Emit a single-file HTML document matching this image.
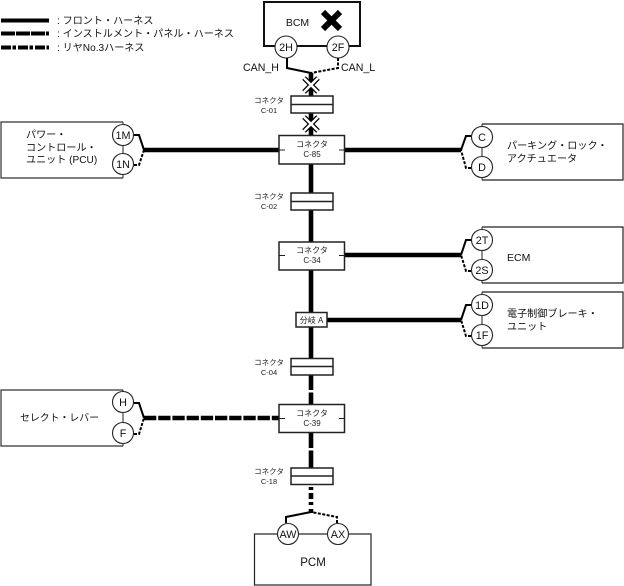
<!DOCTYPE html>
<html><head><meta charset="utf-8"><style>
html,body{margin:0;padding:0;background:#fff}
svg{display:block}
text{font-family:"Liberation Sans","Noto Sans CJK JP",sans-serif;fill:#111}
.t{font-size:10.1px}
.s{font-size:7.5px;text-anchor:middle;fill:#222}
.b{font-size:8px;text-anchor:middle;fill:#222}
.c{font-size:10.8px;text-anchor:middle;fill:#111}
.conn{fill:#fff;stroke:#222;stroke-width:1.5}
.circ{fill:#fff;stroke:#222;stroke-width:1.1}
.th{stroke:#000;stroke-width:4.6;fill:none}
.n{stroke:#000;stroke-width:2;fill:none}
.nd{stroke:#000;stroke-width:2;fill:none;stroke-dasharray:3 1.5}
</style></head><body>
<svg width="624" height="586" viewBox="0 0 624 586" xmlns="http://www.w3.org/2000/svg">
<!-- legend -->
<line x1="1" y1="20.500" x2="49" y2="20.500" class="th" style="stroke-width:4"/>
<line x1="1" y1="33.500" x2="49" y2="33.500" class="th" style="stroke-width:4;stroke-dasharray:14 1"/>
<line x1="1" y1="47.500" x2="49" y2="47.500" class="th" style="stroke-width:4;stroke-dasharray:10 1.500 3.500 2"/>
<text x="57" y="24" class="t">: フロント・ハーネス</text>
<text x="57" y="37" class="t">: インストルメント・パネル・ハーネス</text>
<text x="57" y="51" class="t">: リヤNo.3ハーネス</text>

<!-- trunk -->
<line x1="311" y1="73" x2="311" y2="135" class="th"/>
<line x1="311" y1="164" x2="311" y2="312" class="th"/>
<line x1="311" y1="327" x2="311" y2="358" class="th"/>
<line x1="311" y1="375" x2="311" y2="390" class="th"/>
<line x1="311" y1="392.500" x2="311" y2="404" class="th"/>
<line x1="311" y1="432" x2="311" y2="448" class="th"/>
<line x1="311" y1="450.500" x2="311" y2="468" class="th"/>
<line x1="311" y1="487" x2="311" y2="490" class="th"/>
<line x1="311" y1="493" x2="311" y2="499" class="th"/>
<line x1="311" y1="502" x2="311" y2="505" class="th"/>
<line x1="311" y1="509" x2="311" y2="513" class="th"/>

<!-- BCM -->
<rect x="264" y="2" width="96" height="44" fill="#fff" stroke="#111" stroke-width="2"/>
<text x="297.500" y="26" class="c" style="font-size:10.500px">BCM</text>
<path d="M323 12L340 29M340 12L323 29" stroke="#000" stroke-width="6" fill="none"/>
<circle cx="286" cy="47" r="11" class="circ"/><text x="286" y="51" class="c">2H</text>
<circle cx="338" cy="47" r="11" class="circ"/><text x="338" y="51" class="c">2F</text>
<path d="M287 58V68L311 73" class="n"/>
<path d="M338 58V68L311 73" class="nd"/>
<text x="243" y="71" class="t" style="font-size:10.600px">CAN_H</text>
<text x="341" y="71" class="t" style="font-size:10.600px">CAN_L</text>

<!-- X marks -->
<g fill="none">
<path d="M304 78L318 92M318 78L304 92" stroke="#000" stroke-width="5"/>
<path d="M304 78L318 92M318 78L304 92" stroke="#fff" stroke-width="2.500"/>
<path d="M304 117L318 131M318 117L304 131" stroke="#000" stroke-width="5"/>
<path d="M304 117L318 131M318 117L304 131" stroke="#fff" stroke-width="2.500"/>
</g>

<!-- in-line connectors -->
<rect x="291" y="96" width="42" height="17" class="conn"/><line x1="291" y1="104.500" x2="333" y2="104.500" stroke="#222" stroke-width="1.500"/>
<text x="269" y="103" class="s">コネクタ</text><text x="269" y="113" class="s">C-01</text>
<rect x="291" y="193" width="42" height="17" class="conn"/><line x1="291" y1="201.500" x2="333" y2="201.500" stroke="#222" stroke-width="1.500"/>
<text x="269" y="199" class="s">コネクタ</text><text x="269" y="209" class="s">C-02</text>
<rect x="291" y="358.500" width="42" height="16.500" class="conn"/><line x1="291" y1="366.500" x2="333" y2="366.500" stroke="#222" stroke-width="1.500"/>
<text x="269" y="365" class="s">コネクタ</text><text x="269" y="375" class="s">C-04</text>
<rect x="291" y="468" width="42" height="16.500" class="conn"/><line x1="291" y1="476" x2="333" y2="476" stroke="#222" stroke-width="1.500"/>
<text x="269" y="474" class="s">コネクタ</text><text x="269" y="484" class="s">C-18</text>

<!-- horizontal harness -->
<line x1="144" y1="150" x2="279" y2="150" class="th"/>
<line x1="345" y1="150" x2="461" y2="150" class="th"/>
<line x1="345" y1="255" x2="461" y2="255" class="th"/>
<line x1="327" y1="320" x2="461" y2="320" class="th"/>
<line x1="144" y1="418" x2="279" y2="418" class="th" style="stroke-dasharray:12.300 1.900"/>

<!-- main connectors -->
<rect x="279" y="135.500" width="65.500" height="28.500" class="conn"/>
<path d="M279 150h6M339 150h6" stroke="#222" stroke-width="1"/>
<text x="312" y="147" class="b">コネクタ</text><text x="312" y="157" class="b">C-85</text>
<rect x="279" y="242" width="65.500" height="28" class="conn"/>
<path d="M279 255.500h6M339 255.500h6" stroke="#222" stroke-width="1"/>
<text x="312" y="253" class="b">コネクタ</text><text x="312" y="263" class="b">C-34</text>
<rect x="296" y="312.500" width="31" height="14.500" class="conn"/>
<text x="311.500" y="323" class="b">分岐 A</text>
<rect x="279" y="404.500" width="65.500" height="28" class="conn"/>
<path d="M279 418.500h6M339 418.500h6" stroke="#222" stroke-width="1"/>
<text x="312" y="416" class="b">コネクタ</text><text x="312" y="426" class="b">C-39</text>

<!-- PCU -->
<path d="M123 122H1V178H123" fill="#fff" stroke="#333" stroke-width="1.200"/>
<line x1="123" y1="122" x2="123" y2="178" stroke="#222"/>
<circle cx="123" cy="135" r="10.500" class="circ"/><text x="123" y="139" class="c">1M</text>
<circle cx="123" cy="164" r="10.500" class="circ"/><text x="123" y="168" class="c">1N</text>
<path d="M134 135H139L144 150" class="n"/>
<path d="M134 165H139L144 150" class="nd"/>
<text x="26" y="138" class="t">パワー・</text>
<text x="26" y="151" class="t">コントロール・</text>
<text x="26" y="163" class="t">ユニット (PCU)</text>

<!-- select lever -->
<path d="M123 390H1V446H123" fill="#fff" stroke="#333" stroke-width="1.200"/>
<line x1="123" y1="390" x2="123" y2="446" stroke="#222"/>
<circle cx="123" cy="402" r="10.500" class="circ"/><text x="123" y="406" class="c">H</text>
<circle cx="123" cy="433" r="10.500" class="circ"/><text x="123" y="437" class="c">F</text>
<path d="M134 403H139L144 418" class="n"/>
<path d="M134 434H139L144 418" class="nd"/>
<text x="20" y="421" class="t" style="font-size:9.900px">セレクト・レバー</text>

<!-- right units -->
<path d="M482 124H623V180H482" fill="#fff" stroke="#222" stroke-width="1.200"/>
<line x1="482" y1="124" x2="482" y2="180" stroke="#222"/>
<circle cx="482" cy="137" r="10.500" class="circ"/><text x="482" y="141" class="c">C</text>
<circle cx="482" cy="167" r="10.500" class="circ"/><text x="482" y="171" class="c">D</text>
<path d="M471 136H466L461 150" class="n"/>
<path d="M471 168H466L461 150" class="nd"/>
<text x="507" y="149" class="t">パーキング・ロック・</text>
<text x="507" y="162" class="t">アクチュエータ</text>

<path d="M482 227H623V283H482" fill="#fff" stroke="#222" stroke-width="1.200"/>
<line x1="482" y1="227" x2="482" y2="283" stroke="#222"/>
<circle cx="482" cy="240" r="10.500" class="circ"/><text x="482" y="244" class="c">2T</text>
<circle cx="482" cy="270" r="10.500" class="circ"/><text x="482" y="274" class="c">2S</text>
<path d="M471 240H466L461 255" class="n"/>
<path d="M471 271H466L461 255" class="nd"/>
<text x="507" y="261" class="t" style="font-size:10.500px">ECM</text>

<path d="M482 292H623V348H482" fill="#fff" stroke="#222" stroke-width="1.200"/>
<line x1="482" y1="292" x2="482" y2="348" stroke="#222"/>
<circle cx="482" cy="305" r="10.500" class="circ"/><text x="482" y="309" class="c">1D</text>
<circle cx="482" cy="335" r="10.500" class="circ"/><text x="482" y="339" class="c">1F</text>
<path d="M471 305H466L461 320" class="n"/>
<path d="M471 336H466L461 320" class="nd"/>
<text x="507" y="317" class="t">電子制御ブレーキ・</text>
<text x="507" y="330" class="t">ユニット</text>

<!-- PCM -->
<rect x="254.500" y="534" width="116.500" height="51" fill="#fff" stroke="#222" stroke-width="1.200"/>
<circle cx="288" cy="534" r="10.500" class="circ"/><text x="288" y="538" class="c">AW</text>
<circle cx="338" cy="534" r="10.500" class="circ"/><text x="338" y="538" class="c">AX</text>
<path d="M286 523V517L311 512" class="n"/>
<path d="M337 523V517L311 512" class="nd"/>
<text x="313" y="566" class="c" style="font-size:11.500px">PCM</text>
</svg>
</body></html>
